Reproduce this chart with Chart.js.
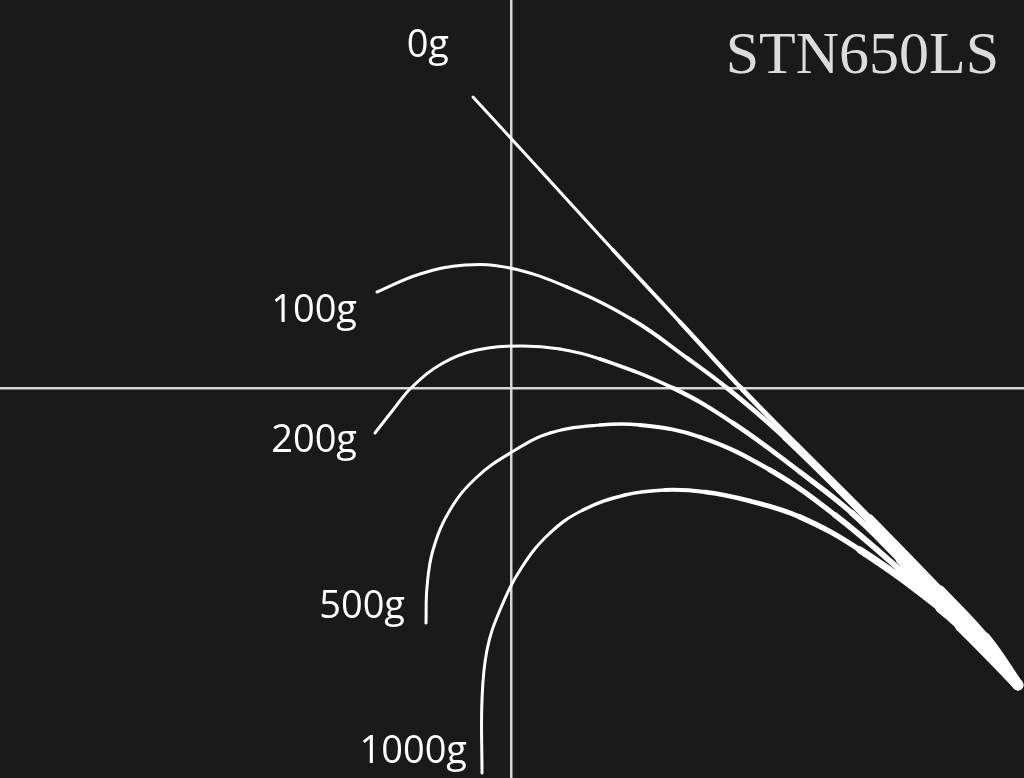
<!DOCTYPE html>
<html>
<head>
<meta charset="utf-8">
<script src="https://cdn.jsdelivr.net/npm/chart.js@4.4.1/dist/chart.umd.min.js"></script>
<style>
  html, body { margin: 0; padding: 0; background: #1b1a1b; }
  #wrap { width: 1024px; height: 778px; position: relative; }
</style>
</head>
<body>
<div id="wrap"><canvas id="c"></canvas></div>
<script>
// ---- data (picture units: x to the right, y downward) ----
const chartTitle = 'STN650LS';
const loads = ['0g', '100g', '200g', '500g', '1000g'];
const crossX = 511;
const crossY = 388;

const curve0g = [[473,97],[540,170],[613,250],[680,322],[740,387],[797,445],[870,518],[940,590],[985,638],[1018,685]];
const curve100g = [[377,292],[420,274],[465,265],[510,268],[567,287],[633,320],[687,358],[727,388],[785,438],[870,522],[940,594],[1018,685]];
const curve200g = [[375,433],[393,410],[412,387],[443,363],[477,350],[520,346],[560,349],[600,359],[673,388],[733,423],[800,472],[852,513],[900,560],[960,621],[1018,685]];
const curve500g = [[426,623],[427,587],[433,550],[450,510],[477,477],[512,452],[550,433],[600,425],[640,425],[700,437],[770,470],[835,515],[900,570],[960,626],[1018,685]];
const curve1000g = [[482,773],[482,700],[487,650],[500,610],[522,567],[550,533],[583,510],[625,495],[665,490],[705,492],[750,501],[800,517],[860,550],[940,608],[980,644],[1018,685]];

const curves = [curve0g, curve100g, curve200g, curve500g, curve1000g];

// ---- styling ----
function taper(x) {
  if (x < 560) return 3;
  if (x < 860) return 3 + (x - 560) / 300 * 2.5;
  return 5.5 + (x - 860) / 158 * 6;
}

const bgPlugin = {
  id: 'bg',
  beforeDraw(chart) {
    const ctx = chart.ctx;
    ctx.save();
    ctx.fillStyle = '#1b1a1b';
    ctx.fillRect(0, 0, chart.width, chart.height);
    ctx.restore();
  }
};

const textPlugin = {
  id: 'rodText',
  afterDatasetsDraw(chart, args, opts) {
    const ctx = chart.ctx;
    ctx.save();
    ctx.fillStyle = '#ffffff';
    ctx.font = '38px "Open Sans", "Noto Sans", sans-serif';
    ctx.textAlign = 'right';
    ctx.textBaseline = 'alphabetic';
    loads.forEach((name, i) => {
      const p = chart.getDatasetMeta(i).data[0];
      const off = opts.offsets[i];
      ctx.fillText(name, p.x + off[0], p.y + off[1]);
    });
    ctx.fillStyle = '#dcdcdc';
    ctx.font = '60px "Liberation Serif", "Times New Roman", serif';
    ctx.fillText(chartTitle, chart.chartArea.right - 25, chart.chartArea.top + 73);
    ctx.restore();
  }
};

const datasets = curves.map((c, i) => ({
  label: loads[i],
  data: c.map(p => ({ x: p[0], y: p[1] })),
  borderColor: '#ffffff',
  borderWidth: 3,
  borderCapStyle: 'round',
  borderJoinStyle: 'round',
  pointRadius: 0,
  tension: 0.4,
  fill: false,
  segment: {
    borderWidth: ctx => taper((ctx.p0.parsed.x + ctx.p1.parsed.x) / 2)
  }
}));

new Chart(document.getElementById('c'), {
  type: 'line',
  data: { datasets },
  options: {
    responsive: true,
    maintainAspectRatio: false,
    animation: false,
    layout: { padding: 0 },
    plugins: {
      legend: { display: false },
      tooltip: { enabled: false },
      title: { display: false },
      rodText: {
        offsets: [[-24, -40], [-20, 30], [-18, 19], [-21, -5], [-15, -10]]
      }
    },
    scales: {
      x: {
        type: 'linear', min: 0, max: 1024,
        ticks: { display: false },
        grid: { color: '#d6d6d6', lineWidth: 2.5, drawTicks: false },
        border: { display: false },
        afterBuildTicks: s => { s.ticks = [{ value: crossX }]; }
      },
      y: {
        type: 'linear', min: 0, max: 778, reverse: true,
        ticks: { display: false },
        grid: { color: '#d6d6d6', lineWidth: 2.5, drawTicks: false },
        border: { display: false },
        afterBuildTicks: s => { s.ticks = [{ value: crossY }]; }
      }
    }
  },
  plugins: [bgPlugin, textPlugin]
});
</script>
</body>
</html>
